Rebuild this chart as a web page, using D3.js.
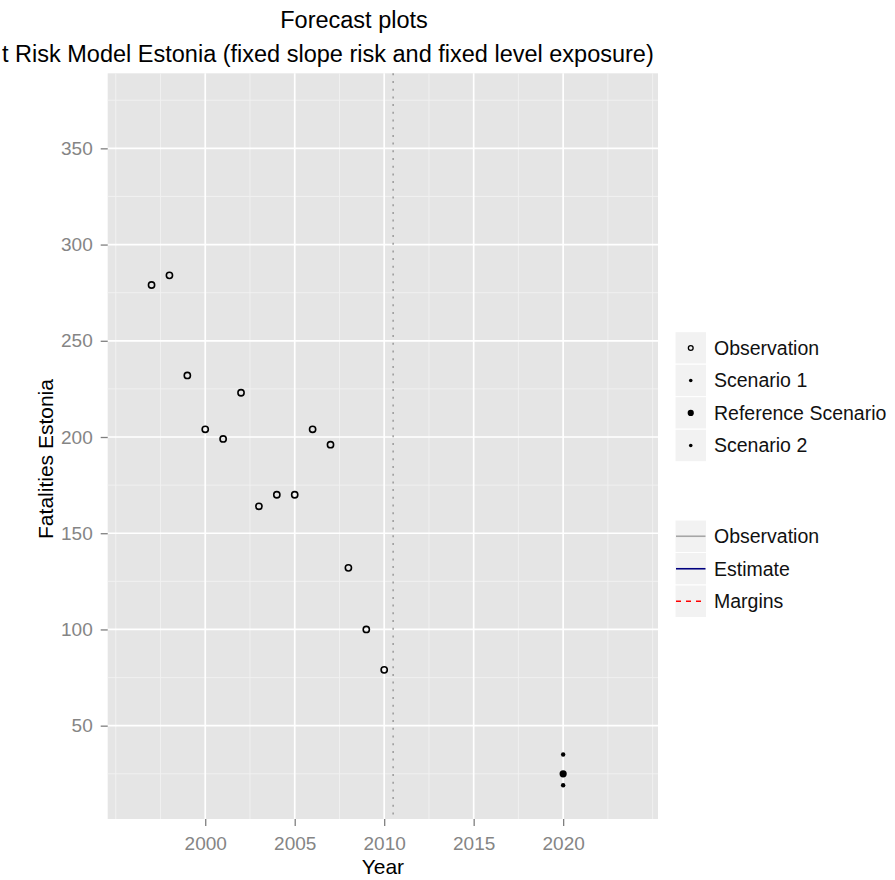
<!DOCTYPE html>
<html>
<head>
<meta charset="utf-8">
<script src="https://cdn.jsdelivr.net/npm/d3@7"></script>
<style>
  body { margin: 0; background: #fff; }
  svg { display: block; font-family: "Liberation Sans", Arial, sans-serif; }
</style>
</head>
<body>
<svg id="chart" width="895" height="880"></svg>
<script>
// observed fatalities
const obsYears = [1997, 1998, 1999, 2000, 2001, 2002, 2003, 2004, 2005, 2006, 2007, 2008, 2009, 2010];
const obsValues = [279, 284, 232, 204, 199, 223, 164, 170, 170, 204, 196, 132, 100, 79];

// forecast scenarios for 2020
const scenarioNames = ["Scenario 1", "Reference Scenario", "Scenario 2"];
const scenarioYears = [2020, 2020, 2020];
const scenarioValues = [35, 25, 19];

const xTicks = [2000, 2005, 2010, 2015, 2020];
const xMinor = [1995, 1997.5, 2002.5, 2007.5, 2012.5, 2017.5, 2022.5, 2025];
const yTicks = [50, 100, 150, 200, 250, 300, 350];
const yMinor = [25, 75, 125, 175, 225, 275, 325, 375];
const forecastStart = 2010.5;

const pointLegend = ["Observation", "Scenario 1", "Reference Scenario", "Scenario 2"];
const lineLegend = ["Observation", "Estimate", "Margins"];

const svg = d3.select("#chart");

const panel = { left: 107.7, right: 658, top: 73.3, bottom: 819 };

const x = d3.scaleLinear()
  .domain([1994.55, 2025.3])
  .range([panel.left, panel.right]);

const y = d3.scaleLinear()
  .domain([1.5, 389])
  .range([panel.bottom, panel.top]);

/* ------------------ titles ------------------ */

svg.append("text")
  .attr("x", 354).attr("y", 28)
  .attr("text-anchor", "middle")
  .attr("font-size", 23.5)
  .text("Forecast plots");

svg.append("text")
  .attr("x", 2).attr("y", 62)
  .attr("font-size", 23.5)
  .text("t Risk Model Estonia (fixed slope risk and fixed level exposure)");

/* ------------------ panel + grid ------------------ */

svg.append("rect")
  .attr("x", panel.left).attr("y", panel.top)
  .attr("width", panel.right - panel.left)
  .attr("height", panel.bottom - panel.top)
  .attr("fill", "#e5e5e5");

const grid = svg.append("g");

grid.selectAll(".xminor").data(xMinor).join("line")
  .attr("x1", d => x(d)).attr("x2", d => x(d))
  .attr("y1", panel.top).attr("y2", panel.bottom)
  .attr("stroke", "#f2f2f2").attr("stroke-width", 0.9);

grid.selectAll(".yminor").data(yMinor).join("line")
  .attr("x1", panel.left).attr("x2", panel.right)
  .attr("y1", d => y(d)).attr("y2", d => y(d))
  .attr("stroke", "#f2f2f2").attr("stroke-width", 0.9);

grid.selectAll(".xmajor").data(xTicks).join("line")
  .attr("x1", d => x(d)).attr("x2", d => x(d))
  .attr("y1", panel.top).attr("y2", panel.bottom)
  .attr("stroke", "#fff").attr("stroke-width", 1.7);

grid.selectAll(".ymajor").data(yTicks).join("line")
  .attr("x1", panel.left).attr("x2", panel.right)
  .attr("y1", d => y(d)).attr("y2", d => y(d))
  .attr("stroke", "#fff").attr("stroke-width", 1.7);

// start of forecast
svg.append("line")
  .attr("x1", x(forecastStart)).attr("x2", x(forecastStart))
  .attr("y1", panel.top).attr("y2", panel.bottom)
  .attr("stroke", "#9a9a9a").attr("stroke-width", 1.5)
  .attr("stroke-dasharray", "2,5.7");

/* ------------------ axes ------------------ */

const xAxis = svg.append("g")
  .attr("transform", `translate(0,${panel.bottom})`)
  .call(d3.axisBottom(x).tickValues(xTicks).tickFormat(d3.format("d")).tickSize(7).tickPadding(11));

const yAxis = svg.append("g")
  .attr("transform", `translate(${panel.left},0)`)
  .call(d3.axisLeft(y).tickValues(yTicks).tickSize(7).tickPadding(8));

[xAxis, yAxis].forEach(a => {
  a.select(".domain").remove();
  a.selectAll(".tick line").attr("stroke", "#7f7f7f").attr("stroke-width", 1.3);
  a.selectAll(".tick text")
    .attr("fill", "#858585")
    .attr("font-size", 19)
    .attr("font-family", "Liberation Sans, Arial, sans-serif");
});

svg.append("text")
  .attr("x", (panel.left + panel.right) / 2).attr("y", 874)
  .attr("text-anchor", "middle")
  .attr("font-size", 21)
  .text("Year");

svg.append("text")
  .attr("transform", "translate(53,459) rotate(-90)")
  .attr("text-anchor", "middle")
  .attr("font-size", 21)
  .text("Fatalities Estonia");

/* ------------------ points ------------------ */

svg.append("g").selectAll("circle")
  .data(obsYears.map((yr, i) => ({ yr, v: obsValues[i] })))
  .join("circle")
  .attr("cx", d => x(d.yr))
  .attr("cy", d => y(d.v))
  .attr("r", 3.1)
  .attr("fill", "none")
  .attr("stroke", "#000")
  .attr("stroke-width", 1.6);

svg.append("g").selectAll("circle")
  .data(scenarioNames.map((n, i) => ({ n, yr: scenarioYears[i], v: scenarioValues[i] })))
  .join("circle")
  .attr("cx", d => x(d.yr))
  .attr("cy", d => y(d.v))
  .attr("r", d => d.n === "Reference Scenario" ? 3.6 : 2.2)
  .attr("fill", "#000");

/* ------------------ legends ------------------ */

const keyX = 675, keyW = 31.5, keyH = 32.5, textX = 714;

const leg1 = svg.append("g").attr("transform", "translate(0,331.7)");
pointLegend.forEach((name, i) => {
  const g = leg1.append("g").attr("transform", `translate(0,${i * keyH})`);
  g.append("rect")
    .attr("x", keyX).attr("y", 0)
    .attr("width", keyW).attr("height", keyH)
    .attr("fill", "#f2f2f2").attr("stroke", "#fff").attr("stroke-width", 1);
  const c = g.append("circle")
    .attr("cx", keyX + keyW / 2).attr("cy", keyH / 2);
  if (i === 0) c.attr("r", 2.4).attr("fill", "none").attr("stroke", "#000").attr("stroke-width", 1.3);
  else if (name === "Reference Scenario") c.attr("r", 3.1).attr("fill", "#000");
  else c.attr("r", 1.8).attr("fill", "#000");
  g.append("text")
    .attr("x", textX).attr("y", keyH / 2)
    .attr("dy", "0.36em")
    .attr("font-size", 19.5)
    .attr("fill", "#111")
    .text(name);
});

const lineStyles = [
  { color: "#a6a6a6", dash: null },
  { color: "#00007f", dash: null },
  { color: "#ff0000", dash: "5,5" }
];

const leg2 = svg.append("g").attr("transform", "translate(0,520)");
lineLegend.forEach((name, i) => {
  const g = leg2.append("g").attr("transform", `translate(0,${i * keyH})`);
  g.append("rect")
    .attr("x", keyX).attr("y", 0)
    .attr("width", keyW).attr("height", keyH)
    .attr("fill", "#f2f2f2").attr("stroke", "#fff").attr("stroke-width", 1);
  g.append("line")
    .attr("x1", keyX + 1).attr("x2", keyX + keyW - 1)
    .attr("y1", keyH / 2).attr("y2", keyH / 2)
    .attr("stroke", lineStyles[i].color)
    .attr("stroke-width", 1.6)
    .attr("stroke-dasharray", lineStyles[i].dash);
  g.append("text")
    .attr("x", textX).attr("y", keyH / 2)
    .attr("dy", "0.36em")
    .attr("font-size", 19.5)
    .attr("fill", "#111")
    .text(name);
});
</script>
</body>
</html>
